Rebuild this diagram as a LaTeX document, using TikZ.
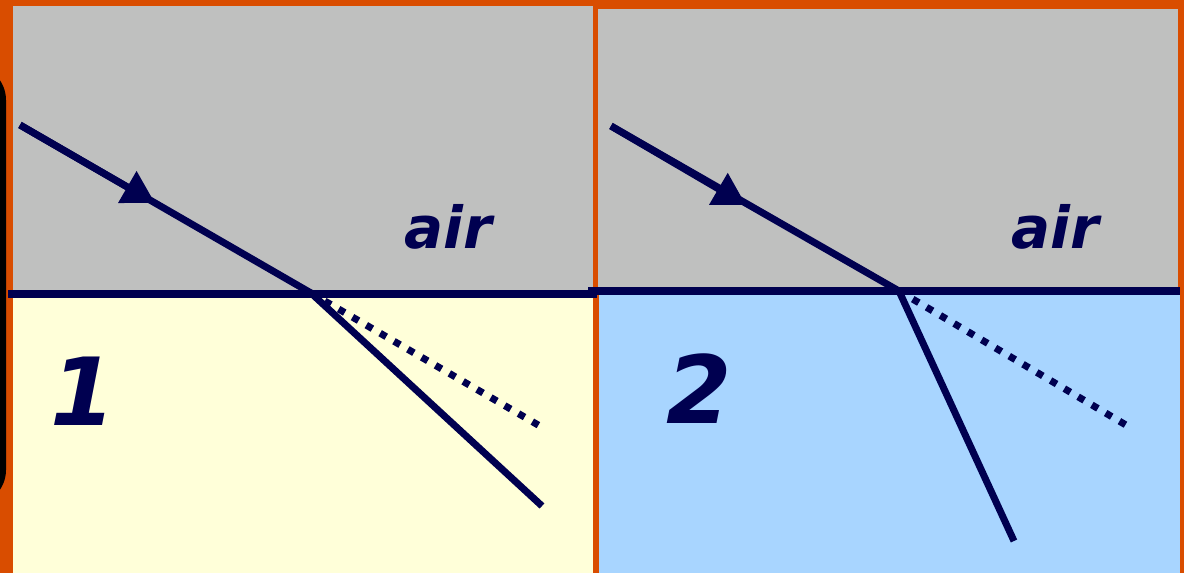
\documentclass[tikz,border=0pt]{standalone}
\usepackage{fontspec}
\setsansfont{DejaVu Sans}
\usetikzlibrary{arrows.meta}
\definecolor{bgorange}{HTML}{D94D00}
\definecolor{airgray}{HTML}{BFC0BF}
\definecolor{medyellow}{HTML}{FFFFD9}
\definecolor{medblue}{HTML}{A8D5FF}
\definecolor{navy}{HTML}{000050}
\tikzset{
  ray/.style={draw=navy, line width=7pt},
  surface/.style={draw=navy, line width=8pt},
  reflected/.style={draw=navy, line width=7pt, dash pattern=on 7pt off 9pt},
  arrowed/.style={-{Triangle[length=32pt,width=35pt]}},
  lbl/.style={text=navy, font=\sffamily\bfseries\itshape\fontsize{58}{58}\selectfont, anchor=base west, inner sep=0pt},
  num/.style={text=navy, font=\sffamily\bfseries\itshape\fontsize{94}{94}\selectfont, anchor=base west, inner sep=0pt}
}
\begin{document}
\begin{tikzpicture}[x=1pt,y=-1pt]
\useasboundingbox (0,0) rectangle (1184,573);
\fill[bgorange] (0,0) rectangle (1184,573);
\begin{scope}
\clip (0,0) rectangle (1184,573);
\fill[black, rounded corners=35pt] (-40,65) rectangle (6,505);
\end{scope}
% panel 1
\fill[airgray] (13,6) rectangle (593,294);
\fill[medyellow] (13,294) rectangle (593,573);
% panel 2
\fill[airgray] (598,9) rectangle (1178,291);
\fill[medblue] (599,291) rectangle (1180,573);
% coordinates panel 1
\coordinate (s1l) at (8,294);
\coordinate (s1r) at (597,294);
\coordinate (a1) at (20,125);
\coordinate (m1) at (155,203);
\coordinate (o1) at (311,293);
\coordinate (r1) at (542,506);
\coordinate (d1) at (545,429);
% coordinates panel 2
\coordinate (s2l) at (588,290.5);
\coordinate (s2r) at (1180,290.5);
\coordinate (a2) at (611,126);
\coordinate (m2) at (746,205);
\coordinate (o2) at (899,291);
\coordinate (r2) at (1014,541);
\coordinate (d2) at (1131,428);
% panel 1 drawing
\draw[surface] (s1l) -- (s1r);
\draw[ray] (a1) -- (o1) -- (r1);
\draw[ray, arrowed] (a1) -- (m1);
\draw[reflected] (o1) -- (d1);
% panel 2 drawing
\draw[surface] (s2l) -- (s2r);
\draw[ray] (a2) -- (o2) -- (r2);
\draw[ray, arrowed] (a2) -- (m2);
\draw[reflected] (o2) -- (d2);
% labels
\node[lbl] (air1) at (404,248) {air};
\node[lbl] (air2) at (1011,248) {air};
\node[num] (n1) at (50,425) {1};
\node[num] (n2) at (666,423) {2};
\end{tikzpicture}
\end{document}
